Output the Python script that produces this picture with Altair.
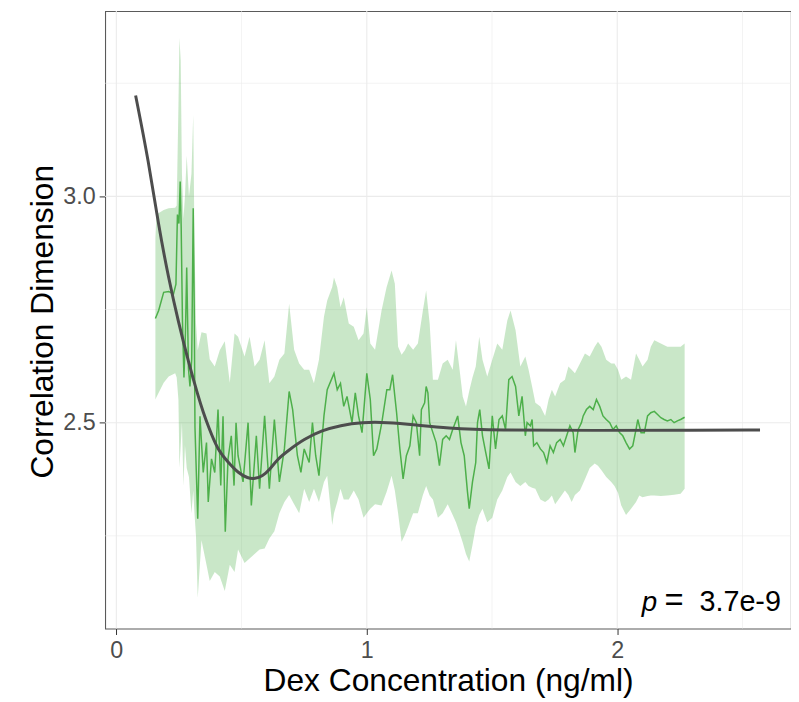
import altair as alt
import pandas as pd

# ---- data ----
line_x = [0.156, 0.169, 0.189, 0.209, 0.228, 0.238, 0.244, 0.250, 0.255, 0.259, 0.264, 0.270, 0.276, 0.281,
          0.288, 0.294, 0.301, 0.307, 0.311, 0.314, 0.325, 0.334, 0.347, 0.360, 0.367, 0.380, 0.393, 0.406,
          0.417, 0.426, 0.435, 0.446, 0.459, 0.470, 0.478, 0.486, 0.506, 0.526, 0.539, 0.559, 0.572, 0.592,
          0.611, 0.631, 0.651, 0.671, 0.690, 0.704, 0.723, 0.737, 0.750, 0.770, 0.783, 0.796, 0.809, 0.829,
          0.842, 0.869, 0.882, 0.895, 0.908, 0.921, 0.941, 0.954, 0.967, 0.981, 1.000, 1.014, 1.027, 1.040,
          1.060, 1.080, 1.092, 1.103, 1.112, 1.119, 1.132, 1.145, 1.158, 1.172, 1.185, 1.198, 1.211, 1.218,
          1.231, 1.237, 1.244, 1.251, 1.264, 1.277, 1.290, 1.303, 1.317, 1.330, 1.343, 1.363, 1.376, 1.389,
          1.402, 1.409, 1.422, 1.435, 1.442, 1.451, 1.462, 1.475, 1.488, 1.501, 1.514, 1.528, 1.541, 1.554,
          1.567, 1.580, 1.594, 1.607, 1.620, 1.633, 1.640, 1.653, 1.660, 1.666, 1.679, 1.693, 1.706, 1.719,
          1.732, 1.745, 1.758, 1.772, 1.785, 1.798, 1.811, 1.824, 1.831, 1.844, 1.857, 1.864, 1.877, 1.890,
          1.904, 1.917, 1.930, 1.943, 1.956, 1.970, 1.983, 1.996, 2.009, 2.022, 2.035, 2.049, 2.062, 2.075,
          2.082, 2.095, 2.108, 2.121, 2.134, 2.148, 2.161, 2.174, 2.187, 2.200, 2.214, 2.227, 2.240, 2.253,
          2.269]
line_y = [2.730, 2.748, 2.788, 2.790, 2.784, 2.806, 2.960, 2.940, 3.033, 2.930, 2.726, 2.600, 2.700, 2.843,
          2.620, 2.580, 2.640, 2.974, 2.760, 2.490, 2.288, 2.514, 2.390, 2.456, 2.325, 2.420, 2.390, 2.529,
          2.361, 2.514, 2.259, 2.420, 2.471, 2.361, 2.500, 2.427, 2.369, 2.500, 2.317, 2.471, 2.354, 2.515,
          2.354, 2.507, 2.369, 2.442, 2.569, 2.529, 2.427, 2.390, 2.442, 2.412, 2.500, 2.427, 2.383, 2.515,
          2.573, 2.609, 2.573, 2.587, 2.536, 2.558, 2.500, 2.566, 2.515, 2.478, 2.609, 2.551, 2.427, 2.442,
          2.500, 2.573, 2.573, 2.606, 2.558, 2.522, 2.442, 2.376, 2.427, 2.449, 2.515, 2.500, 2.427, 2.529,
          2.544, 2.580, 2.566, 2.500, 2.478, 2.456, 2.405, 2.463, 2.471, 2.463, 2.485, 2.515, 2.456, 2.427,
          2.347, 2.310, 2.369, 2.412, 2.500, 2.529, 2.471, 2.434, 2.398, 2.515, 2.442, 2.507, 2.515, 2.485,
          2.595, 2.602, 2.580, 2.515, 2.558, 2.471, 2.500, 2.493, 2.507, 2.449, 2.456, 2.442, 2.434, 2.412,
          2.449, 2.434, 2.456, 2.463, 2.449, 2.471, 2.493, 2.478, 2.434, 2.485, 2.500, 2.515, 2.529, 2.536,
          2.529, 2.551, 2.536, 2.515, 2.507, 2.500, 2.485, 2.493, 2.478, 2.471, 2.456, 2.442, 2.449, 2.485,
          2.507, 2.478, 2.478, 2.515, 2.522, 2.525, 2.518, 2.511, 2.507, 2.504, 2.507, 2.500, 2.504, 2.507,
          2.512]

band_x = [0.156, 0.160, 0.189, 0.209, 0.235, 0.241, 0.248, 0.252, 0.257, 0.262, 0.268, 0.274, 0.281, 0.290,
          0.300, 0.307, 0.312, 0.318, 0.325, 0.340, 0.360, 0.373, 0.393, 0.413, 0.433, 0.453, 0.472, 0.486,
          0.512, 0.532, 0.552, 0.572, 0.592, 0.611, 0.631, 0.651, 0.671, 0.690, 0.710, 0.730, 0.750, 0.770,
          0.789, 0.809, 0.829, 0.842, 0.862, 0.869, 0.882, 0.895, 0.908, 0.928, 0.948, 0.967, 0.987, 1.000,
          1.014, 1.033, 1.059, 1.079, 1.099, 1.112, 1.125, 1.139, 1.152, 1.165, 1.185, 1.204, 1.224, 1.237,
          1.251, 1.264, 1.284, 1.303, 1.323, 1.343, 1.356, 1.369, 1.383, 1.396, 1.409, 1.422, 1.435, 1.449,
          1.462, 1.481, 1.501, 1.521, 1.541, 1.561, 1.574, 1.594, 1.613, 1.633, 1.646, 1.660, 1.673, 1.693,
          1.712, 1.726, 1.739, 1.752, 1.772, 1.791, 1.805, 1.818, 1.831, 1.851, 1.871, 1.890, 1.910, 1.923,
          1.937, 1.956, 1.976, 1.989, 2.003, 2.016, 2.035, 2.055, 2.075, 2.088, 2.101, 2.121, 2.134, 2.148,
          2.174, 2.200, 2.227, 2.253, 2.269]
band_lo = [2.551, 2.556, 2.588, 2.602, 2.609, 2.600, 2.550, 2.400, 2.450, 2.500, 2.360, 2.450, 2.400, 2.380,
           2.300, 2.350, 2.300, 2.250, 2.113, 2.240, 2.186, 2.150, 2.170, 2.160, 2.128, 2.186, 2.170, 2.220,
           2.190, 2.200, 2.210, 2.220, 2.222, 2.244, 2.260, 2.300, 2.325, 2.340, 2.320, 2.300, 2.354, 2.325,
           2.354, 2.325, 2.369, 2.383, 2.274, 2.300, 2.325, 2.354, 2.330, 2.330, 2.350, 2.330, 2.290, 2.300,
           2.310, 2.320, 2.317, 2.347, 2.383, 2.350, 2.300, 2.237, 2.252, 2.270, 2.300, 2.300, 2.340, 2.360,
           2.339, 2.330, 2.290, 2.300, 2.320, 2.296, 2.280, 2.259, 2.235, 2.210, 2.193, 2.230, 2.270, 2.296,
           2.310, 2.280, 2.290, 2.330, 2.350, 2.380, 2.390, 2.369, 2.360, 2.369, 2.360, 2.356, 2.354, 2.330,
           2.325, 2.330, 2.339, 2.320, 2.335, 2.350, 2.340, 2.325, 2.340, 2.350, 2.375, 2.400, 2.410, 2.405,
           2.395, 2.380, 2.369, 2.360, 2.345, 2.317, 2.296, 2.310, 2.325, 2.339, 2.335, 2.338, 2.339, 2.339,
           2.338, 2.339, 2.341, 2.343, 2.354]
band_hi = [2.908, 2.960, 2.970, 2.974, 2.975, 2.980, 3.200, 3.350, 3.300, 3.050, 2.950, 3.000, 3.090, 3.000,
           3.050, 3.180, 2.900, 2.720, 2.660, 2.700, 2.697, 2.640, 2.624, 2.660, 2.680, 2.588, 2.697, 2.690,
           2.646, 2.690, 2.624, 2.639, 2.682, 2.587, 2.602, 2.639, 2.653, 2.763, 2.661, 2.631, 2.617, 2.617,
           2.587, 2.639, 2.734, 2.770, 2.800, 2.821, 2.799, 2.755, 2.777, 2.719, 2.712, 2.682, 2.697, 2.755,
           2.675, 2.661, 2.748, 2.799, 2.836, 2.807, 2.668, 2.650, 2.660, 2.675, 2.661, 2.675, 2.748, 2.792,
           2.719, 2.595, 2.595, 2.631, 2.639, 2.617, 2.682, 2.624, 2.558, 2.536, 2.570, 2.600, 2.624, 2.690,
           2.639, 2.602, 2.639, 2.675, 2.661, 2.726, 2.748, 2.704, 2.624, 2.646, 2.617, 2.580, 2.544, 2.536,
           2.515, 2.551, 2.573, 2.558, 2.587, 2.595, 2.624, 2.617, 2.609, 2.631, 2.653, 2.646, 2.668, 2.679,
           2.668, 2.639, 2.631, 2.631, 2.617, 2.595, 2.602, 2.595, 2.653, 2.639, 2.624, 2.639, 2.668, 2.682,
           2.675, 2.668, 2.668, 2.668, 2.675]

fit_x = [0.077, 0.129, 0.169, 0.209, 0.248, 0.288, 0.327, 0.347, 0.367, 0.406, 0.446, 0.486, 0.525, 0.553,
         0.584, 0.612, 0.644, 0.683, 0.750, 0.822, 0.894, 0.981, 1.079, 1.198, 1.316, 1.514, 1.910, 2.306, 2.570]
fit_y = [3.223, 3.077, 2.934, 2.818, 2.722, 2.634, 2.558, 2.523, 2.492, 2.438, 2.413, 2.389, 2.377, 2.376,
         2.382, 2.396, 2.420, 2.437, 2.464, 2.483, 2.494, 2.501, 2.501, 2.495, 2.488, 2.483, 2.483, 2.483, 2.484]

x_major = [0, 1, 2]
x_minor = [0.5, 1.5, 2.5]
y_major = [2.5, 3.0]
y_minor = [2.25, 2.75, 3.25]

ann_p = pd.DataFrame({"x": [2.1595], "y": [2.0845], "t": ["p"]})
ann_eq = pd.DataFrame({"x": [2.2267], "y": [2.0845], "t": ["="]})
ann_val = pd.DataFrame({"x": [2.6535], "y": [2.0845], "t": ["3.7e-9"]})

# ---- chart ----
FONT = "Liberation Sans"
xs = alt.Scale(domain=[-0.0447, 2.6937], nice=False, zero=False)
ys = alt.Scale(domain=[2.0451, 3.4095], nice=False, zero=False)

line_df = pd.DataFrame({"x": line_x, "y": line_y})
band_df = pd.DataFrame({"x": band_x, "lo": band_lo, "hi": band_hi})
fit_df = pd.DataFrame({"x": fit_x, "y": fit_y})

x_axis = alt.Axis(values=x_major, title="Dex Concentration (ng/ml)", grid=False, domain=False,
                  tickSize=6, tickColor="#333333", tickWidth=1,
                  labelFont=FONT, labelFontSize=23.5, labelColor="#4d4d4d",
                  labelBaseline="alphabetic", labelPadding=23, labelFlush=False,
                  titleFont=FONT, titleFontSize=32, titleFontWeight="normal", titleColor="#000000",
                  titleBaseline="alphabetic", titleY=62.5)
y_axis = alt.Axis(values=y_major, format=".1f", title="Correlation Dimension", grid=False, domain=False,
                  tickSize=6, tickColor="#333333", tickWidth=1,
                  labelFont=FONT, labelFontSize=23.5, labelColor="#4d4d4d", labelPadding=4,
                  labelFlush=False,
                  titleFont=FONT, titleFontSize=32, titleFontWeight="normal", titleColor="#000000",
                  titleBaseline="alphabetic", titleX=-53, titleY=313, titleAngle=-90,
                  titleAlign="center")


def X(field):
    return alt.X(field, scale=xs, axis=x_axis, title="Dex Concentration (ng/ml)")


def Y(field):
    return alt.Y(field, scale=ys, axis=y_axis, title="Correlation Dimension")


gx_major = alt.Chart(pd.DataFrame({"v": x_major})).mark_rule(color="#ebebeb", strokeWidth=1.1).encode(
    x=X("v:Q"))
gx_minor = alt.Chart(pd.DataFrame({"v": x_minor})).mark_rule(color="#ebebeb", strokeWidth=0.6).encode(
    x=X("v:Q"))
gy_major = alt.Chart(pd.DataFrame({"v": y_major})).mark_rule(color="#ebebeb", strokeWidth=1.1).encode(
    y=Y("v:Q"))
gy_minor = alt.Chart(pd.DataFrame({"v": y_minor})).mark_rule(color="#ebebeb", strokeWidth=0.6).encode(
    y=Y("v:Q"))

band = alt.Chart(band_df).mark_area(color="#4DAF4A", opacity=0.3, interpolate="linear").encode(
    x=X("x:Q"),
    y=Y("lo:Q"),
    y2="hi:Q",
)
line = alt.Chart(line_df).mark_line(color="#4DAF4A", strokeWidth=1.5).encode(
    x=X("x:Q"),
    y=Y("y:Q"),
)
fit = alt.Chart(fit_df).mark_line(color="#4d4d4d", strokeWidth=3, interpolate="basis").encode(
    x=X("x:Q"),
    y=Y("y:Q"),
)
t_p = alt.Chart(ann_p).mark_text(font=FONT, fontSize=28, fontStyle="italic", align="right",
                                 baseline="alphabetic", color="#000000").encode(
    x=X("x:Q"), y=Y("y:Q"), text="t:N")
t_eq = alt.Chart(ann_eq).mark_text(font=FONT, fontSize=33, align="center",
                                   baseline="alphabetic", color="#000000").encode(
    x=X("x:Q"), y=Y("y:Q"), text="t:N")
t_val = alt.Chart(ann_val).mark_text(font=FONT, fontSize=29, align="right",
                                     baseline="alphabetic", color="#000000").encode(
    x=X("x:Q"), y=Y("y:Q"), text="t:N")

chart = alt.layer(gx_minor, gy_minor, gx_major, gy_major, band, line, fit, t_p, t_eq, t_val).properties(
    width=692, height=623,
    autosize=alt.AutoSizeParams(type="none"),
    padding={"left": 98, "top": 0, "right": 0, "bottom": 71},
    background="#ffffff",
).configure_view(stroke="#5a5a5a", strokeWidth=1.1)

chart.save("out.html", embed_options={"renderer": "svg", "actions": False})
